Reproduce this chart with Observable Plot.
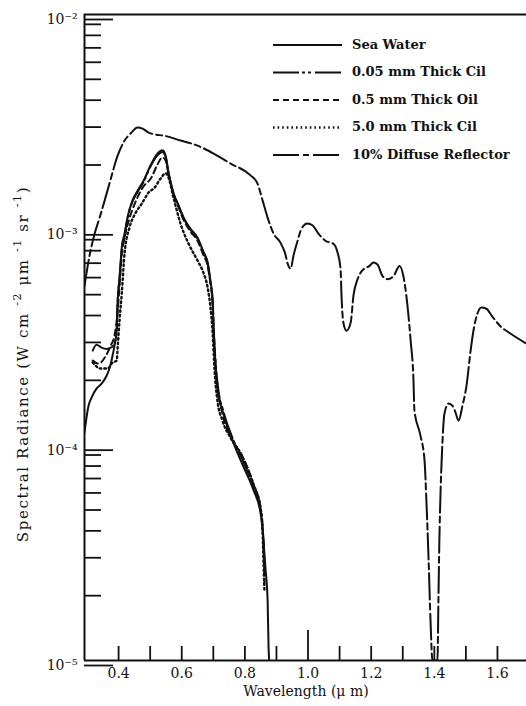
<!DOCTYPE html>
<html><head><meta charset="utf-8">
<script src="https://cdn.jsdelivr.net/npm/d3@7"></script>
<script src="https://cdn.jsdelivr.net/npm/@observablehq/plot@0.6"></script>
<style>body{margin:0;background:#fff} #chart{position:relative;width:526px;height:706px}</style>
</head><body><div id="chart"></div>
<script>
// ---- data (wavelength in µm, spectral radiance in W cm^-2 µm^-1 sr^-1) ----
const seaWaterWl = [0.292,0.305,0.314,0.330,0.346,0.362,0.371,0.381,0.387,0.394,0.397,0.403,0.410,0.419,0.428,0.444,0.460,0.479,0.501,0.523,0.539,0.549,0.558,0.574,0.590,0.606,0.628,0.650,0.669,0.682,0.691,0.698,0.701,0.713,0.732,0.761,0.796,0.827,0.850,0.859,0.865,0.872,0.875,0.877];
const seaWaterVal = [1.15e-4,1.53e-4,1.66e-4,1.83e-4,1.93e-4,2.10e-4,2.27e-4,2.61e-4,2.9e-4,3.4e-4,4.7e-4,6.0e-4,8.3e-4,9.6e-4,1.14e-3,1.37e-3,1.52e-3,1.69e-3,1.99e-3,2.26e-3,2.34e-3,2.21e-3,1.85e-3,1.48e-3,1.30e-3,1.14e-3,1.01e-3,9.2e-4,7.9e-4,7.05e-4,5.8e-4,4.7e-4,3.3e-4,1.85e-4,1.40e-4,1.05e-4,7.9e-5,6.2e-5,4.8e-5,3.6e-5,2.7e-5,1.9e-5,1.15e-5,1.0e-5];

const oil005Wl = [0.318,0.330,0.346,0.362,0.378,0.388,0.394,0.397,0.403,0.410,0.419,0.428,0.444,0.460,0.479,0.501,0.523,0.539,0.549,0.558,0.574,0.590,0.606,0.628,0.650,0.669,0.682,0.691,0.698,0.702,0.714,0.733,0.762,0.796,0.827,0.850,0.858,0.863];
const oil005Val = [2.75e-4,2.93e-4,2.84e-4,2.80e-4,2.85e-4,3.0e-4,3.4e-4,4.6e-4,5.9e-4,8.1e-4,9.4e-4,1.12e-3,1.35e-3,1.50e-3,1.67e-3,1.97e-3,2.22e-3,2.30e-3,2.18e-3,1.84e-3,1.47e-3,1.29e-3,1.13e-3,1.0e-3,9.1e-4,7.8e-4,7.0e-4,5.7e-4,4.6e-4,3.3e-4,1.9e-4,1.42e-4,1.07e-4,8.3e-5,6.4e-5,5.0e-5,3.8e-5,2.6e-5];

const oil05Wl = [0.318,0.337,0.356,0.375,0.387,0.397,0.403,0.410,0.419,0.432,0.451,0.476,0.504,0.523,0.539,0.549,0.558,0.574,0.590,0.606,0.628,0.650,0.669,0.682,0.691,0.698,0.702,0.708,0.716,0.730,0.758,0.790,0.827,0.850,0.857,0.860,0.862];
const oil05Val = [2.47e-4,2.39e-4,2.55e-4,2.9e-4,3.23e-4,4.2e-4,5.5e-4,7.6e-4,9.2e-4,1.10e-3,1.32e-3,1.57e-3,1.75e-3,2.01e-3,2.17e-3,2.1e-3,1.81e-3,1.46e-3,1.27e-3,1.11e-3,9.8e-4,8.9e-4,7.6e-4,6.8e-4,5.6e-4,4.5e-4,3.3e-4,2.3e-4,1.75e-4,1.38e-4,1.07e-4,9.0e-5,6.6e-5,5.0e-5,4.0e-5,3.0e-5,2.3e-5];

const oil50Wl = [0.318,0.343,0.365,0.381,0.394,0.397,0.403,0.410,0.419,0.435,0.454,0.473,0.495,0.514,0.533,0.549,0.558,0.574,0.596,0.622,0.650,0.669,0.682,0.691,0.698,0.704,0.713,0.729,0.755,0.786,0.827,0.850,0.856,0.859,0.862];
const oil50Val = [2.42e-4,2.27e-4,2.27e-4,2.42e-4,2.47e-4,2.84e-4,3.8e-4,5.06e-4,7.8e-4,1.03e-3,1.20e-3,1.32e-3,1.49e-3,1.57e-3,1.73e-3,1.83e-3,1.75e-3,1.41e-3,1.07e-3,8.6e-4,7.2e-4,6.3e-4,5.4e-4,4.36e-4,3.3e-4,2.22e-4,1.61e-4,1.30e-4,1.08e-4,9.2e-5,6.6e-5,5.1e-5,4.0e-5,2.9e-5,2.1e-5];

const diffuseWl = [0.292,0.308,0.324,0.340,0.356,0.371,0.397,0.419,0.438,0.460,0.476,0.495,0.517,0.542,0.596,0.650,0.701,0.755,0.818,0.840,0.856,0.872,0.891,0.913,0.926,0.938,0.945,0.954,0.967,0.979,0.998,1.014,1.033,1.055,1.081,1.093,1.103,1.106,1.112,1.122,1.135,1.144,1.157,1.173,1.195,1.207,1.220,1.236,1.252,1.271,1.290,1.302,1.315,1.325,1.334,1.337,1.356,1.369,1.375,1.382,1.388,1.394,1.410,1.413,1.416,1.420,1.426,1.432,1.445,1.458,1.467,1.477,1.489,1.502,1.515,1.524,1.537,1.549,1.565,1.584,1.610,1.641,1.692];
const diffuseVal = [5.5e-4,7.6e-4,9.6e-4,1.14e-3,1.37e-3,1.64e-3,2.21e-3,2.60e-3,2.80e-3,2.99e-3,2.95e-3,2.83e-3,2.77e-3,2.74e-3,2.60e-3,2.46e-3,2.26e-3,2.03e-3,1.79e-3,1.64e-3,1.37e-3,1.14e-3,9.6e-4,8.7e-4,7.9e-4,6.8e-4,6.6e-4,7.6e-4,8.9e-4,1.01e-3,1.07e-3,1.05e-3,9.6e-4,8.9e-4,8.6e-4,7.9e-4,6.6e-4,4.96e-4,3.7e-4,3.4e-4,3.7e-4,4.96e-4,5.9e-4,6.5e-4,6.8e-4,7.05e-4,6.9e-4,6.1e-4,5.9e-4,6.1e-4,6.8e-4,6.1e-4,4.45e-4,3.06e-4,2.0e-4,1.45e-4,1.11e-4,8.5e-5,5.5e-5,2.9e-5,1.53e-5,1.0e-5,1.0e-5,1.9e-5,3.6e-5,6.2e-5,1.05e-4,1.40e-4,1.56e-4,1.52e-4,1.42e-4,1.30e-4,1.52e-4,1.89e-4,2.75e-4,3.4e-4,4.1e-4,4.36e-4,4.3e-4,3.95e-4,3.56e-4,3.3e-4,2.96e-4];

const seriesNames = ["Sea Water","0.05 mm Thick Cil","0.5 mm Thick Oil","5.0 mm Thick Cil","10% Diffuse Reflector"];
const seriesWl = [seaWaterWl, oil005Wl, oil05Wl, oil50Wl, diffuseWl];
const seriesVal = [seaWaterVal, oil005Val, oil05Val, oil50Val, diffuseVal];

const xDomain = [0.292, 1.692];
const yDomain = [1e-5, 1e-2];
const yMajor = [1e-2, 1e-3, 1e-4, 1e-5];
const yMinor = [];
for (const dec of [1e-5, 1e-4, 1e-3]) for (let k = 2; k <= 9; k++) yMinor.push(k * dec);
const xTicksShort = [0.4,0.5,0.6,0.7,0.8,0.9,1.1,1.2,1.3,1.4,1.5,1.6];
const xTicksLong = [1.0];
const xTickLabels = [0.4,0.6,0.8,1.0,1.2,1.4,1.6];

// ---- styles (separate from data) ----
const styleOf = {
  "Sea Water": {dash: null, width: 2},
  "0.05 mm Thick Cil": {dash: "26,3,3,3,3,4", width: 2},
  "0.5 mm Thick Oil": {dash: "6,4", width: 2},
  "5.0 mm Thick Cil": {dash: "1.6,3", width: 2.4},
  "10% Diffuse Reflector": {dash: "26,4,6,4", width: 2}
};

const rows = [];
seriesNames.forEach((n, j) => seriesWl[j].forEach((w, i) => rows.push({series: n, wl: w, val: seriesVal[j][i]})));

const sup = {"-": "\u207B", "0": "\u2070", "1": "\u00B9", "2": "\u00B2", "3": "\u00B3", "4": "\u2074", "5": "\u2075"};
const yFmt = d => "10" + String(Math.round(Math.log10(d))).split("").map(c => sup[c]).join("");

const lineMarks = [...seriesNames].reverse().map(n => Plot.line(rows.filter(r => r.series === n), {
  x: "wl", y: "val", stroke: "#111", strokeWidth: styleOf[n].width,
  strokeDasharray: styleOf[n].dash, curve: "monotone-x", clip: true
}));

const plot = Plot.plot({
  width: 526, height: 706,
  marginLeft: 84, marginRight: 0, marginTop: 14, marginBottom: 46,
  style: {fontFamily: "DejaVu Serif", fontSize: "14px", background: "#fff", color: "#111", overflow: "visible"},
  x: {domain: xDomain},
  y: {type: "log", domain: yDomain},
  marks: [
    Plot.axisY({ticks: yMinor, tickSize: -17, tickFormat: () => "", strokeWidth: 1.8, label: null}),
    Plot.axisY({ticks: yMajor, tickSize: -29, tickPadding: 36, tickFormat: yFmt, dy: 5, strokeWidth: 1.8, fontSize: 14, label: null}),
    Plot.axisX({ticks: xTicksShort, tickSize: -14, tickFormat: () => "", strokeWidth: 1.8, label: null}),
    Plot.axisX({ticks: xTicksLong, tickSize: -30, tickFormat: () => "", strokeWidth: 1.8, label: null}),
    Plot.axisX({ticks: xTickLabels, tickSize: 0, tickPadding: 8, tickFormat: d3.format(".1f"), fontSize: 14, label: null}),
    Plot.ruleY([yDomain[1], yDomain[0]], {stroke: "#111", strokeWidth: 2}),
    Plot.ruleX([xDomain[0]], {stroke: "#111", strokeWidth: 2}),
    ...lineMarks
  ]
});

const svg = d3.select(plot);
// axis titles
const yt = svg.append("text")
  .attr("transform", "translate(24,364) rotate(-90)")
  .attr("text-anchor", "middle").attr("dominant-baseline", "middle")
  .attr("font-family", "DejaVu Serif").attr("font-size", 15).attr("letter-spacing", 1.6).attr("fill", "#111");
const ytParts = [["Spectral Radiance (W cm ", false], ["-2", true], [" \u03BCm ", false], ["-1", true], [" sr ", false], ["-1", true], [")", false]];
ytParts.forEach(([t, s]) => {
  const ts = yt.append("tspan").text(t);
  if (s) ts.attr("font-size", 11).attr("baseline-shift", "super");
});
svg.append("text")
  .attr("x", 306).attr("y", 692)
  .attr("text-anchor", "middle").attr("dominant-baseline", "middle")
  .attr("font-family", "DejaVu Serif").attr("font-size", 14).attr("fill", "#111")
  .text("Wavelength (\u03BC m)");

// legend
const lg = svg.append("g").attr("font-family", "DejaVu Serif").attr("font-size", 13).attr("font-weight", "bold").attr("fill", "#111").attr("text-anchor", "start");
seriesNames.forEach((n, i) => {
  const y = 45 + i * 27.5;
  lg.append("line").attr("x1", 273).attr("x2", 342).attr("y1", y).attr("y2", y)
    .attr("stroke", "#111").attr("stroke-width", styleOf[n].width)
    .attr("stroke-dasharray", styleOf[n].dash);
  lg.append("text").attr("x", 352).attr("y", y).attr("text-anchor", "start").attr("dominant-baseline", "middle").text(n);
});

document.getElementById("chart").appendChild(plot);
</script>
</body></html>
